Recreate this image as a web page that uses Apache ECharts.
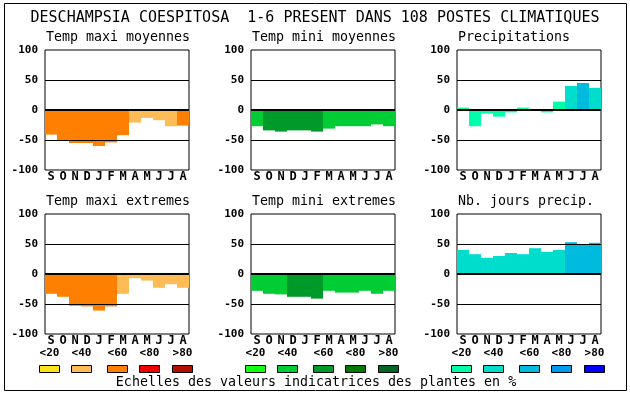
<!DOCTYPE html>
<html><head><meta charset="utf-8">
<script src="https://cdn.jsdelivr.net/npm/echarts@6/dist/echarts.min.js"></script>
<style>html,body{margin:0;padding:0;background:#fff}#c{width:630px;height:394px}</style>
</head><body><div id="c"></div>
<script>
const months = ['S','O','N','D','J','F','M','A','M','J','J','A'];
const mainTitle = 'DESCHAMPSIA COESPITOSA  1-6 PRESENT DANS 108 POSTES CLIMATIQUES';
const footer = 'Echelles des valeurs indicatrices des plantes en %';
const panelTitles = ['Temp maxi moyennes','Temp mini moyennes','Precipitations','Temp maxi extremes','Temp mini extremes','Nb. jours precip.'];
const legendLabels = ['<20','<40','<60','<80','>80'];
const warmColors = ['#FFE31A','#FFBB55','#FF8000','#EE0000','#B01000'];
const greenColors = ['#11FF11','#00CC33','#009A2A','#007A00','#006622'];
const blueColors = ['#00FFAA','#00DDCC','#00BBDD','#0099EE','#0000FF'];

const tmaxMoy = [-41,-50,-55,-55,-60,-54,-42,-21,-13,-17,-27,-26];
const tmaxMoyCls = [2,2,2,2,2,2,2,1,1,1,1,2];
const tminMoy = [-27,-34,-36,-34,-34,-36,-31,-27,-27,-27,-24,-27];
const tminMoyCls = [1,2,2,2,2,2,1,1,1,1,1,1];
const precip = [4,-27,-6,-11,-4,4,0,-4,14,40,45,37];
const precipCls = [0,0,0,0,0,0,0,0,0,1,2,1];
const tmaxExt = [-33,-38,-53,-54,-61,-54,-33,-7,-11,-23,-17,-23];
const tmaxExtCls = [2,2,2,2,2,2,1,1,1,1,1,1];
const tminExt = [-28,-33,-34,-38,-38,-41,-28,-31,-31,-28,-33,-28];
const tminExtCls = [1,1,1,2,2,2,1,1,1,1,1,1];
const nbJours = [40,33,27,30,35,33,43,37,40,53,50,52];
const nbJoursCls = [1,1,1,1,1,1,1,1,1,2,2,2];

const panels = [
  {vals:tmaxMoy, cls:tmaxMoyCls, pal:warmColors},
  {vals:tminMoy, cls:tminMoyCls, pal:greenColors},
  {vals:precip, cls:precipCls, pal:blueColors},
  {vals:tmaxExt, cls:tmaxExtCls, pal:warmColors},
  {vals:tminExt, cls:tminExtCls, pal:greenColors},
  {vals:nbJours, cls:nbJoursCls, pal:blueColors}
];
const colLeft = [45,251,457];
const rowTop = [50,214];
const PW = 144, PH = 120;
const MONO = '"DejaVu Sans Mono", "Liberation Mono", monospace';

const grids=[], xAxes=[], yAxes=[], series=[], graphics=[];
panels.forEach((p,i)=>{
  const c=i%3, r=Math.floor(i/3);
  grids.push({left:colLeft[c], top:rowTop[r], width:PW, height:PH, show:true, borderColor:'#000', borderWidth:1, backgroundColor:'#fff'});
  xAxes.push({type:'category', gridIndex:i, data:months, axisLine:{show:false}, axisTick:{show:false},
    axisLabel:{interval:0, color:'#000', fontFamily:MONO, fontWeight:'bold', fontSize:12, margin:1}});
  yAxes.push({type:'value', gridIndex:i, min:-100, max:100, interval:50, axisLine:{show:false}, axisTick:{show:false}, splitLine:{show:false},
    axisLabel:{color:'#000', fontFamily:MONO, fontWeight:'bold', fontSize:11, margin:7}});
  series.push({type:'bar', xAxisIndex:i, yAxisIndex:i, barWidth:'100%', barGap:0, barCategoryGap:0, silent:true,
    data:p.vals.map((v,k)=>({value:v, itemStyle:{color:p.pal[p.cls[k]]}})),
    markLine:{silent:true, symbol:'none', label:{show:false}, animation:false,
      lineStyle:{color:'#000', width:1, type:'solid'},
      data:[{yAxis:50},{yAxis:0, lineStyle:{color:'#000',width:2,type:'solid'}},{yAxis:-50}]}});
  graphics.push({type:'text', style:{text:panelTitles[i], x:colLeft[c]+1, y:rowTop[r]-12, font:'13.3px '+MONO, fill:'#000', textAlign:'left', align:'left', textVerticalAlign:'middle', verticalAlign:'middle'}});
});

// legend swatches
const swOff = [-6,26,62,94,127];
[warmColors, greenColors, blueColors].forEach((pal,g)=>{
  pal.forEach((col,k)=>{
    const x = colLeft[g]+swOff[k];
    graphics.push({type:'rect', shape:{x:x+0.5, y:365.5, width:20, height:7}, style:{fill:col, stroke:'#000', lineWidth:1}});
    graphics.push({type:'text', style:{text:legendLabels[k], x:x+10.5, y:353, font:'bold 11px '+MONO, fill:'#000', textAlign:'center', align:'center', textVerticalAlign:'middle', verticalAlign:'middle'}});
  });
});
graphics.push({type:'text', style:{text:mainTitle, x:315, y:18, font:'15px '+MONO, fill:'#000', textAlign:'center', align:'center', textVerticalAlign:'middle', verticalAlign:'middle'}});
graphics.push({type:'text', style:{text:footer, x:316, y:383, font:'13.3px '+MONO, fill:'#000', textAlign:'center', align:'center', textVerticalAlign:'middle', verticalAlign:'middle'}});
graphics.push({type:'rect', z:-1, shape:{x:4.5, y:3.5, width:622, height:387}, style:{fill:'none', stroke:'#000', lineWidth:1}});

const chart = echarts.init(document.getElementById('c'), null, {renderer:'canvas'});
chart.setOption({animation:false, backgroundColor:'#fff', grid:grids, xAxis:xAxes, yAxis:yAxes, series:series, graphic:graphics});
</script></body></html>
